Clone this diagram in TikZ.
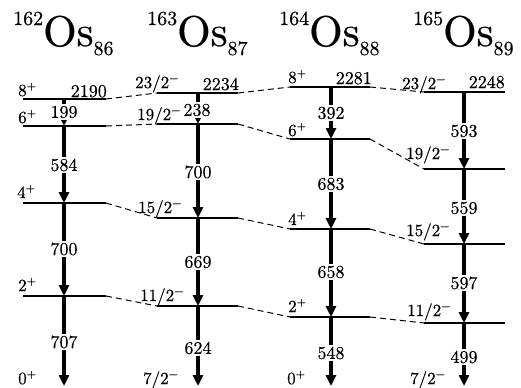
\documentclass[tikz,border=0pt]{standalone}
\usepackage{fontspec}
\setmainfont{lmroman10-regular.otf}[FakeBold=0.5]
\usetikzlibrary{arrows.meta}
\newcommand{\isosup}[1]{\raisebox{21bp}{\fontsize{20bp}{20bp}\selectfont #1}}
\newcommand{\isosub}[1]{\raisebox{-9bp}{\fontsize{20bp}{20bp}\selectfont #1}}
\newcommand{\isotitle}[3]{\isosup{#1}{\fontsize{43bp}{43bp}\selectfont #2}\isosub{#3}}
\newcommand{\spinup}[2]{#1\textsuperscript{#2}}
\begin{document}
\begin{tikzpicture}[x=1bp,y=-1bp,
  lev/.style={line width=1.6bp},
  dsh/.style={line width=1bp, dash pattern=on 6bp off 4bp},
  gam/.style={line width=4.6bp, -{Triangle[width=10bp,length=11bp]}},
  glab/.style={fill=white, inner sep=1.5bp, font=\fontsize{18bp}{20bp}\selectfont},
  slab/.style={anchor=base west, inner sep=0, font=\fontsize{17bp}{20bp}\selectfont},
  elab/.style={anchor=base east, inner sep=0, font=\fontsize{18bp}{20bp}\selectfont},
  ttl/.style={anchor=base west, inner sep=0}]
\useasboundingbox (0,0) rectangle (521,387);
% titles
\node[ttl] (tA) at (13,46) {\isotitle{162}{Os}{86}};
\node[ttl] (tB) at (147,46) {\isotitle{163}{Os}{87}};
\node[ttl] (tC) at (279,46) {\isotitle{164}{Os}{88}};
\node[ttl] (tD) at (413,46) {\isotitle{165}{Os}{89}};
% level coordinates
\foreach \n/\y in {8/99,6/126,4/203,2/296}{
  \coordinate (A\n L) at (23,\y); \coordinate (A\n R) at (106,\y); \coordinate (A\n G) at (64,\y);}
\foreach \n/\y in {23/93,19/124,15/218,11/306}{
  \coordinate (B\n L) at (157,\y); \coordinate (B\n R) at (238,\y); \coordinate (B\n G) at (198,\y);}
\foreach \n/\y in {8/87,6/139,4/229,2/317}{
  \coordinate (C\n L) at (290,\y); \coordinate (C\n R) at (370,\y); \coordinate (C\n G) at (331,\y);}
\foreach \n/\y in {23/92,19/169,15/244,11/323}{
  \coordinate (D\n L) at (424,\y); \coordinate (D\n R) at (505,\y); \coordinate (D\n G) at (464,\y);}
\coordinate (A0G) at (64,386);
\coordinate (B7G) at (198,386);
\coordinate (C0G) at (331,386);
\coordinate (D7G) at (464,386);
% levels
\foreach \c/\n in {A/8,A/6,A/4,A/2,B/23,B/19,B/15,B/11,C/8,C/6,C/4,C/2,D/23,D/19,D/15,D/11}
  \draw[lev] (\c\n L) -- (\c\n R);
% dashed links
\draw[dsh] (A8R) -- (B23L);
\draw[dsh] (A6R) -- (B19L);
\draw[dsh] (A4R) -- (B15L);
\draw[dsh] (A2R) -- (B11L);
\draw[dsh] (B23R) -- (C8L);
\draw[dsh] (B19R) -- (C6L);
\draw[dsh] (B15R) -- (C4L);
\draw[dsh] (B11R) -- (C2L);
\draw[dsh] (C8R) -- (D23L);
\draw[dsh] (C6R) -- (D19L);
\draw[dsh] (C4R) -- (D15L);
\draw[dsh] (C2R) -- (D11L);
% gamma transitions
\draw[gam] (A8G) -- (A6G);
\draw[gam] (A6G) -- (A4G);
\draw[gam] (A4G) -- (A2G);
\draw[gam] (A2G) -- (A0G);
\draw[gam] (B23G) -- (B19G);
\draw[gam] (B19G) -- (B15G);
\draw[gam] (B15G) -- (B11G);
\draw[gam] (B11G) -- (B7G);
\draw[gam] (C8G) -- (C6G);
\draw[gam] (C6G) -- (C4G);
\draw[gam] (C4G) -- (C2G);
\draw[gam] (C2G) -- (C0G);
\draw[gam] (D23G) -- (D19G);
\draw[gam] (D19G) -- (D15G);
\draw[gam] (D15G) -- (D11G);
\draw[gam] (D11G) -- (D7G);
% gamma labels
\node[glab] (gA1) at (64,112) {199};
\node[glab] (gA2) at (64,165) {584};
\node[glab] (gA3) at (64,249) {700};
\node[glab] (gA4) at (64,342) {707};
\node[glab] (gB1) at (197,110) {238};
\node[glab] (gB2) at (198,172) {700};
\node[glab] (gB3) at (198,262) {669};
\node[glab] (gB4) at (198,348) {624};
\node[glab] (gC1) at (331,113) {392};
\node[glab] (gC2) at (331,184) {683};
\node[glab] (gC3) at (331,272) {658};
\node[glab] (gC4) at (331,353) {548};
\node[glab] (gD1) at (464,131) {593};
\node[glab] (gD2) at (464,208) {559};
\node[glab] (gD3) at (464,283) {597};
\node[glab] (gD4) at (464,357) {499};
% spin labels
\node[slab] (sA8) at (18,96) {\spinup{8}{+}};
\node[slab] (sA6) at (18,123) {\spinup{6}{+}};
\node[slab] (sA4) at (17,198) {\spinup{4}{+}};
\node[slab] (sA2) at (18,291) {\spinup{2}{+}};
\node[slab] (sA0) at (18,384) {\spinup{0}{+}};
\node[slab] (sB23) at (135,88) {\spinup{23/2}{−}};
\node[slab] (sB19) at (137,120) {\spinup{19/2}{−}};
\node[slab] (sB15) at (138,213) {\spinup{15/2}{−}};
\node[slab] (sB11) at (140,301) {\spinup{11/2}{−}};
\node[slab] (sB7) at (143,384) {\spinup{7/2}{−}};
\node[slab] (sC8) at (288,83) {\spinup{8}{+}};
\node[slab] (sC6) at (288,136) {\spinup{6}{+}};
\node[slab] (sC4) at (288,225) {\spinup{4}{+}};
\node[slab] (sC2) at (288,312) {\spinup{2}{+}};
\node[slab] (sC0) at (287,384) {\spinup{0}{+}};
\node[slab] (sD23) at (402,89) {\spinup{23/2}{−}};
\node[slab] (sD19) at (406,159) {\spinup{19/2}{−}};
\node[slab] (sD15) at (406,236) {\spinup{15/2}{−}};
\node[slab] (sD11) at (407,316) {\spinup{11/2}{−}};
\node[slab] (sD7) at (410,384) {\spinup{7/2}{−}};
% energies
\node[elab] (eA) at (107,97) {2190};
\node[elab] (eB) at (239,90) {2234};
\node[elab] (eC) at (372,84) {2281};
\node[elab] (eD) at (505,88) {2248};
\end{tikzpicture}
\end{document}
